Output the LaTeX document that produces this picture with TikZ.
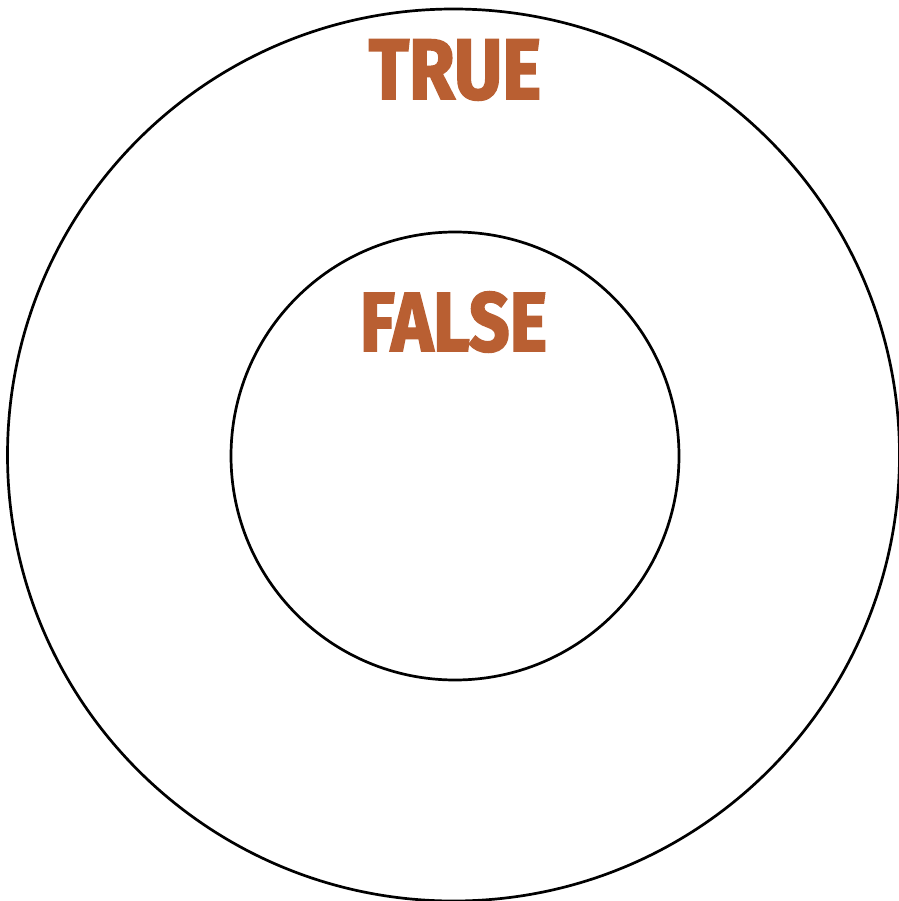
\documentclass[tikz,border=0pt]{standalone}
\usepackage{fontspec}
\newfontfamily\labelfont{Fira Sans}[BoldFeatures={FakeBold=2.5}]
\definecolor{labelwarm}{RGB}{185,95,50}
\tikzset{
  ring/.style={draw=black, line width=2.7pt, circle, inner sep=0pt},
  bigword/.style={inner sep=0pt, text=labelwarm, font=\labelfont\bfseries}
}
\begin{document}
\begin{tikzpicture}[x=1pt,y=-1pt]
  \useasboundingbox (0,0) rectangle (898,901);
  \fill[white] (0,0) rectangle (898,901);
  \node[ring, minimum size=892pt] (outer) at (453.5,455) {};
  \node[ring, minimum size=448pt] (inner) at (455,456) {};
  \node[bigword] (truelabel) at (455,70) {\resizebox{172pt}{59pt}{TRUE}};
  \node[bigword] (falselabel) at (453.5,322) {\resizebox{187pt}{59pt}{FALSE}};
\end{tikzpicture}
\end{document}
